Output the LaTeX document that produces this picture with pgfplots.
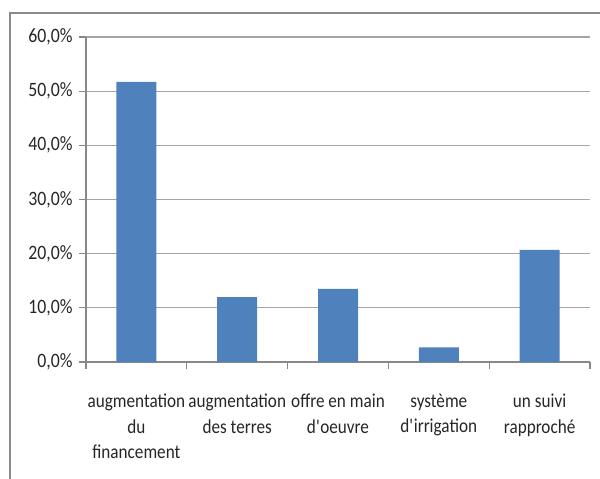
\documentclass[border=0pt]{standalone}
\usepackage{fontspec}
\setmainfont{Carlito}[FakeStretch=0.87]
\usepackage{pgfplots}
\pgfplotsset{compat=1.18}
\definecolor{barblue}{HTML}{4F81BD}
\definecolor{gridgray}{HTML}{A6A6A6}
\definecolor{axgray}{HTML}{888888}
\definecolor{framegray}{HTML}{8A8A8A}
\begin{document}
\begin{tikzpicture}[x=1bp,y=1bp]
\useasboundingbox (0,0) rectangle (600,-479);
\draw[framegray, line width=2.2bp] (10,-479) -- (10,-13) -- (600,-13);
\begin{axis}[
  at={(86bp,-362bp)}, anchor=south west,
  scale only axis, width=504bp, height=325bp,
  xmin=-0.5, xmax=4.5, ymin=0, ymax=60,
  ybar, bar width=40bp,
  axis x line*=bottom, axis y line*=left,
  axis line style={axgray, line width=1.2bp, -},
  ytick={0,10,...,60},
  /pgf/number format/assume math mode=true,
  yticklabel={\pgfmathprintnumber[fixed,fixed zerofill,precision=1,use comma]{\tick}\%},
  yticklabel style={font=\fontsize{20.5}{22}\selectfont, text=black!85, xshift=-3bp},
  ymajorgrids, grid style={gridgray, line width=1.2bp},
  xtick={-0.5,0.5,...,4.5}, xticklabels={},
  extra x ticks={0,1,2,3,4},
  extra x tick labels={{augmentation\\du\\financement},{augmentation\\des terres},{offre en main\\d\textquotesingle oeuvre},{système\\d\textquotesingle irrigation},{un suivi\\rapproché}},
  extra x tick style={major tick length=0pt, grid=none,
    tick label style={align=center, font=\fontsize{19.8}{26}\selectfont, text=black!85, yshift=-28bp}},
  tick align=outside, major tick length=7bp,
  tick style={axgray, line width=1.2bp},
]
\addplot[fill=barblue, draw=none] coordinates {(0,51.7) (1,12.0) (2,13.5) (3,2.7) (4,20.7)};
\end{axis}
\end{tikzpicture}
\end{document}
